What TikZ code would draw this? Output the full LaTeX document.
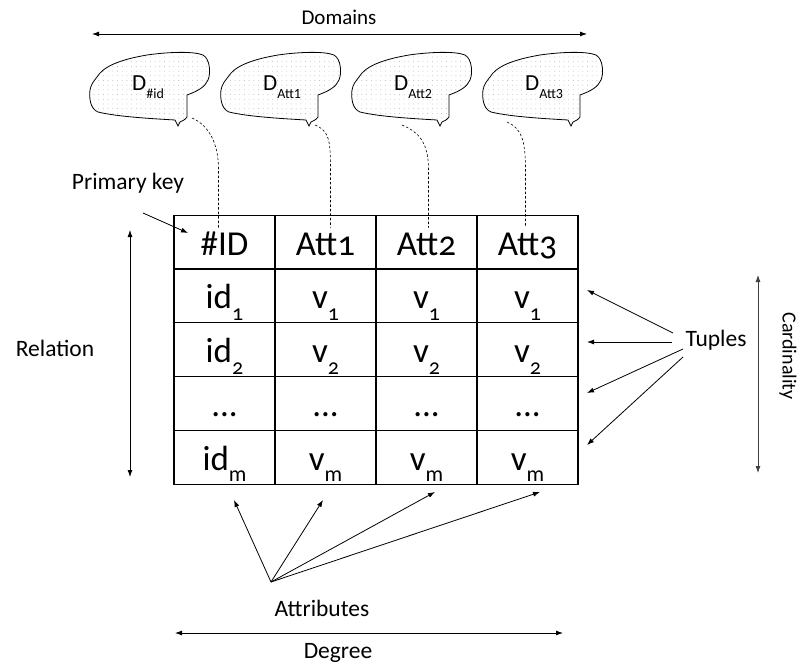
\documentclass[tikz,border=0pt]{standalone}
\usepackage{fontspec}
\setmainfont{Carlito}
\newfontfamily\cellfont{Carlito}[Numbers=OldStyle]
\usetikzlibrary{arrows.meta,patterns.meta}

% lowered index as in the table cells
\newcommand{\lowsub}[2]{\raisebox{-0.33em}{\fontsize{#1}{#1}\selectfont #2}}

% sparse dots for the domain blobs
\tikzdeclarepattern{
  name=sparsedots,
  bottom left={(-1pt,-1pt)},
  top right={(1pt,1pt)},
  tile size={(4.7pt,4.7pt)},
  code={\fill (0pt,0pt) circle (0.45pt);}
}

\tikzset{
  cell/.style={draw, line width=1.2pt, minimum width=101pt, minimum height=53.8pt,
    inner sep=0pt, text height=26pt, text depth=0pt,
    font=\cellfont\fontsize{35}{35}\selectfont},
  lbl/.style={inner sep=1pt, font=\fontsize{23.5}{23.5}\selectfont},
  dlbl/.style={inner sep=0pt, anchor=base west, font=\fontsize{23}{23}\selectfont},
  arr/.style={line width=0.8pt, -{Latex[length=7pt,width=5pt]}},
  dbl/.style={line width=0.8pt, {Latex[length=7pt,width=5pt]}-{Latex[length=7pt,width=5pt]}},
  blob/.style={draw, line width=0.8pt, pattern=sparsedots, pattern color=gray!60},
  link/.style={line width=0.6pt, dash pattern=on 2.5pt off 2pt}
}

\begin{document}
\begin{tikzpicture}[x=1pt, y=-1pt]
  \useasboundingbox (0,0) rectangle (799,668);

  % Domains
  \foreach \i/\x/\s in {1/148/\#id, 2/279/Att1, 3/410/Att2, 4/541/Att3}{
    \path[blob, shift={(\x,85)}] (-51,-8) .. controls (-45,-18) and (-30,-25) .. (-1,-30)
      .. controls (20,-33) and (45,-34) .. (55,-30) .. controls (62,-26) and (63,-12) .. (60,-5)
      .. controls (57,2) and (50,6) .. (39,10) -- (39,32)
      .. controls (37,35) and (34,36) .. (32,37) -- (30,41) -- (27,35)
      .. controls (10,34) and (-30,32) .. (-50,27) .. controls (-58,24) and (-59,12) .. (-58,5)
      .. controls (-57,-1) and (-54,-4) .. cycle;
    \node[dlbl] (d\i) at (\x-16,91) {D\lowsub{14}{\s}};
  }
  \node[lbl, font=\fontsize{21}{21}\selectfont] (dom) at (339,17) {Domains};
  \coordinate (domL) at (92,34);
  \coordinate (domR) at (587,34);
  \draw[dbl] (domL) -- (domR);

  % Table
  \foreach \c/\t in {1/{\#ID}, 2/Att1, 3/Att2, 4/Att3}
    \node[cell] (h\c) at ({123.5+101*\c},242) {\t};
  \foreach \r/\s in {1/1, 2/2, 4/m}{
    \node[cell] (c\r1) at (224.5,{242+53.8*\r}) {id\lowsub{22}{\s}};
    \foreach \c in {2,3,4}
      \node[cell] (c\r\c) at ({123.5+101*\c},{242+53.8*\r}) {v\lowsub{22}{\s}};
  }
  \foreach \c in {1,...,4}
    \node[cell] (c3\c) at ({123.5+101*\c},{242+53.8*3}) {...};

  % Domain links
  \coordinate (k1) at (192,118);
  \coordinate (k2) at (315,125);
  \coordinate (k3) at (402,125);
  \coordinate (k4) at (507,122);
  \foreach \i/\dx in {1/-6, 2/5, 3/2, 4/-2}
    \draw[link] (k\i) .. controls +(14,6) and +(0,-30) .. ([xshift=\dx pt,yshift=45pt]h\i.north)
      -- ([xshift=\dx pt,yshift=-13pt]h\i.north);

  % Primary key
  \node[lbl] (pk) at (128,183) {Primary key};
  \coordinate (pkA) at (143,213);
  \coordinate (pkB) at (188,233);
  \draw[arr] (pkA) -- (pkB);

  % Relation
  \node[lbl] (rel) at (55,348) {Relation};
  \coordinate (relT) at (130,230);
  \coordinate (relB) at (130,477);
  \draw[dbl] (relT) -- (relB);

  % Tuples
  \node[lbl] (tup) at (716,340) {Tuples};
  \coordinate (ts1) at (673,333);
  \coordinate (ts2) at (672,342);
  \coordinate (ts3) at (683,349);
  \coordinate (ts4) at (683,357);
  \coordinate (te1) at (587,290);
  \coordinate (te2) at (587,342);
  \coordinate (te3) at (587,393);
  \coordinate (te4) at (587,445);
  \foreach \i in {1,...,4}
    \draw[arr] (ts\i) -- (te\i);

  % Cardinality
  \node[lbl, rotate=-90, font=\fontsize{20}{20}\selectfont] (card) at (788,356) {Cardinality};
  \coordinate (cardT) at (758,275);
  \coordinate (cardB) at (758,473);
  \draw[dbl, black!75] (cardT) -- (cardB);

  % Attributes
  \node[lbl] (att) at (322,608) {Attributes};
  \coordinate (ao) at (271,582);
  \coordinate (ae1) at (234,500);
  \coordinate (ae2) at (323,500);
  \coordinate (ae3) at (435,492);
  \coordinate (ae4) at (540,492);
  \foreach \i in {1,...,4}
    \draw[arr] (ao) -- (ae\i);

  % Degree
  \node[lbl] (deg) at (338,653) {Degree};
  \coordinate (degL) at (175,633);
  \coordinate (degR) at (563,633);
  \draw[dbl] (degL) -- (degR);
\end{tikzpicture}
\end{document}
